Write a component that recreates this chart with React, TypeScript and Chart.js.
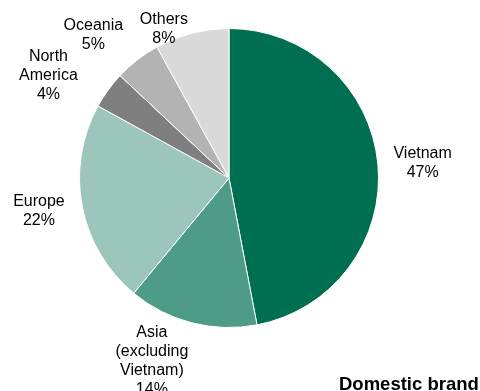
import { useEffect, useRef } from "react";
import { Chart, registerables } from "chart.js";

Chart.register(...registerables);

// ---- Data ----
const categories = ["Vietnam", "Asia (excluding Vietnam)", "Europe", "North America", "Oceania", "Others"];
const labelLines = [["Vietnam"], ["Asia", "(excluding", "Vietnam)"], ["Europe"], ["North", "America"], ["Oceania"], ["Others"]];
const shares = [47, 14, 22, 4, 5, 8];
const title = "Domestic brand";

// ---- Style ----
const colors = ["#006F51", "#4E9B87", "#9CC6BB", "#7F7F7F", "#B3B3B3", "#DADADA"];
const labelNudges: [number, number][] = [
  [1, 3],
  [-29, -4],
  [0, -3],
  [-24, 11],
  [-17, 10],
  [-17, 39],
];
const FONT = '"Liberation Sans", Arial, sans-serif';

const labelPlugin = {
  id: "outsideLabels",
  afterDraw(chart: any) {
    const ctx = chart.ctx;
    const meta = chart.getDatasetMeta(0);
    ctx.save();
    ctx.fillStyle = "#000";
    ctx.font = `16px ${FONT}`;
    ctx.textAlign = "center";
    ctx.textBaseline = "middle";
    const lh = 19;
    meta.data.forEach((arc: any, i: number) => {
      const p = arc.getProps(["x", "y", "startAngle", "endAngle", "outerRadius"], true);
      const mid = (p.startAngle + p.endAngle) / 2;
      const d = p.outerRadius + 44;
      const cx = p.x + Math.cos(mid) * d + labelNudges[i][0];
      const cy = p.y + Math.sin(mid) * d + labelNudges[i][1];
      const lines = [...labelLines[i], `${shares[i]}%`];
      const top = cy - ((lines.length - 1) * lh) / 2;
      lines.forEach((t, k) => ctx.fillText(t, cx, top + k * lh));
    });
    ctx.font = `bold 18.5px ${FONT}`;
    ctx.textAlign = "left";
    ctx.textBaseline = "alphabetic";
    ctx.fillText(title, 339, 390);
    ctx.restore();
  },
};

export default function App() {
  const ref = useRef<HTMLCanvasElement>(null);
  useEffect(() => {
    if (!ref.current) return;
    const chart = new Chart(ref.current, {
      type: "pie",
      data: {
        labels: categories,
        datasets: [
          {
            data: shares,
            backgroundColor: colors,
            borderColor: "#FFFFFF",
            borderWidth: 1,
          },
        ],
      },
      options: {
        responsive: false,
        animation: false,
        devicePixelRatio: 1,
        layout: { padding: { left: 79, right: 101, top: 28, bottom: 63 } },
        plugins: {
          legend: { display: false },
          tooltip: { enabled: false },
          title: { display: false },
        },
      },
      plugins: [labelPlugin],
    });
    return () => chart.destroy();
  }, []);
  return (
    <div style={{ position: "absolute", left: 0, top: 0, width: 480, height: 391, background: "#fff" }}>
      <canvas ref={ref} width={480} height={391} style={{ display: "block" }} />
    </div>
  );
}
